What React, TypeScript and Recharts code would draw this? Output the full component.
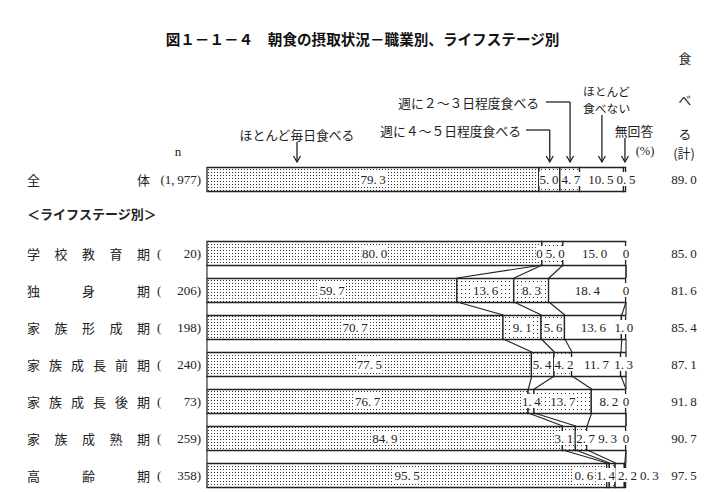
import React from 'react'
import { createPortal } from 'react-dom'
import * as RC from 'recharts'

const { BarChart, Bar, XAxis, YAxis } = RC

// rows: 全体 + life stages
const rowNames = ['全体', '学校教育期', '独身期', '家族形成期', '家族成長前期', '家族成長後期', '家族成熟期', '高齢期']
const sampleN = [1977, 20, 206, 198, 240, 73, 259, 358]
const almostDaily = [79.3, 80.0, 59.7, 70.7, 77.5, 76.7, 84.9, 95.5]
const fourFiveDays = [5.0, 0, 13.6, 9.1, 5.4, 1.4, 3.1, 0.6]
const twoThreeDays = [4.7, 5.0, 8.3, 5.6, 4.2, 13.7, 2.7, 1.4]
const rarely = [10.5, 15.0, 18.4, 13.6, 11.7, 8.2, 9.3, 2.2]
const noAnswer = [0.5, 0, 0, 1.0, 1.3, 0, 0, 0.3]
const eatTotal = [89.0, 85.0, 81.6, 85.4, 87.1, 91.8, 90.7, 97.5]

const series = [
  { key: 'daily', values: almostDaily, fill: 'url(#dotDense)' },
  { key: 'fourFive', values: fourFiveDays, fill: 'url(#dotSparse)' },
  { key: 'twoThree', values: twoThreeDays, fill: 'url(#dotSparse)' },
  { key: 'rarely', values: rarely, fill: '#fff' },
  { key: 'noAnswer', values: noAnswer, fill: '#fff' },
]

// chart rows: 全体, a blank row for the section heading, then the stages
const rowIndex = rowNames.map((_, r) => (r === 0 ? 0 : r + 1))
const chartData: any[] = []
rowNames.forEach((name, r) => {
  const row: any = { name }
  series.forEach(s => (row[s.key] = s.values[r]))
  chartData.push(row)
  if (r === 0) chartData.push({ name: 'heading' })
})

const W = 710
const H = 500
const BAR = 24
const MARGIN = { top: 160.5, right: 84, bottom: 6.5, left: 207 }
const FALLBACK = { x: MARGIN.left, y: MARGIN.top, width: W - MARGIN.left - MARGIN.right, height: H - MARGIN.top - MARGIN.bottom }

const JP = '"Noto Sans CJK JP", sans-serif'
const NUM = '"Liberation Serif", "DejaVu Serif", serif'
const INK = '#222'
const FS = 13

const usePlot = (RC as any).usePlotArea as undefined | (() => any)

// wide decimal point like the source print ("79. 3")
const fmt = (v: number) => (v === 0 ? '0' : v.toFixed(1).replace('.', '.\u2009'))
const textW = (s: string) => {
  let w = 0
  for (const ch of s) w += ch === '.' ? 0.25 : ch === '\u2009' ? 0.2 : 0.5
  return w * FS
}

function spread(pos: number[], widths: number[]) {
  const p = [...pos]
  for (let it = 0; it < 80; it++) {
    for (let i = 0; i < p.length - 1; i++) {
      const need = (widths[i] + widths[i + 1]) / 2 + 3
      const over = need - (p[i + 1] - p[i])
      if (over > 0) {
        p[i] -= over / 2
        p[i + 1] += over / 2
      }
    }
  }
  return p
}

function Arrow({ x, y1, y2 }: { x: number; y1: number; y2: number }) {
  return (
    <g stroke={INK} strokeWidth={1.3} fill="none">
      <line x1={x} y1={y1} x2={x} y2={y2} />
      <path d={`M${x - 3.5},${y2 - 6} L${x},${y2} L${x + 3.5},${y2 - 6}`} />
    </g>
  )
}

function Overlay({ layer }: { layer: SVGGElement | null }) {
  const pa = usePlot ? usePlot() : null
  const area = pa && pa.width ? pa : FALLBACK
  const band = area.height / chartData.length
  const cy = (i: number) => area.y + (i + 0.5) * band
  const px = (v: number) => area.x + (v / 100) * area.width
  const half = BAR / 2

  const cums = rowNames.map((_, r) => {
    const c = [0]
    series.forEach(s => c.push(c[c.length - 1] + s.values[r]))
    return c
  })

  const connectors: React.ReactNode[] = []
  for (let r = 1; r < rowNames.length - 1; r++) {
    const a = cums[r]
    const b = cums[r + 1]
    a.forEach((_, k) => {
      const va = k === a.length - 1 ? 100 : a[k]
      const vb = k === b.length - 1 ? 100 : b[k]
      connectors.push(
        <line key={`c${r}-${k}`} x1={px(va)} y1={cy(rowIndex[r]) + half} x2={px(vb)} y2={cy(rowIndex[r + 1]) - half} stroke={INK} strokeWidth={1.1} />
      )
    })
  }

  const labels: React.ReactNode[] = []
  rowNames.forEach((_, r) => {
    const texts = series.map(s => fmt(s.values[r]))
    const widths = texts.map(textW)
    const centers = series.map((s, k) => px(cums[r][k] + s.values[r] / 2))
    const pos = spread(centers, widths)
    const y = cy(rowIndex[r])
    texts.forEach((t, k) => {
      labels.push(
        <g key={`l${r}-${k}`}>
          <rect x={pos[k] - widths[k] / 2 - 0.5} y={y - 7} width={widths[k] + 1} height={14} fill="#fff" />
          <text x={pos[k]} y={y} textAnchor="middle" dominantBaseline="central" fontFamily={NUM} fontSize={FS} fill={INK}>{t}</text>
        </g>
      )
    })
  })

  const rowText = rowNames.map((name, r) => {
    const y = cy(rowIndex[r])
    const chars = [...name]
    const nStr = sampleN[r].toLocaleString('en-US').replace(',', ',\u2009')
    return (
      <g key={`n${r}`}>
        {chars.map((ch, i) => (
          <text key={i} x={27 + (i * 110) / (chars.length - 1)} y={y} dominantBaseline="central" fontFamily={JP} fontSize={13} fill={INK}>{ch}</text>
        ))}
        {r === 0 ? (
          <text x={201} y={y} textAnchor="end" dominantBaseline="central" fontFamily={NUM} fontSize={FS} fill={INK}>({nStr})</text>
        ) : (
          <>
            <text x={157} y={y} dominantBaseline="central" fontFamily={NUM} fontSize={FS} fill={INK}>(</text>
            <text x={201} y={y} textAnchor="end" dominantBaseline="central" fontFamily={NUM} fontSize={FS} fill={INK}>{nStr})</text>
          </>
        )}
        <text x={684} y={y} textAnchor="middle" dominantBaseline="central" fontFamily={NUM} fontSize={FS} fill={INK}>{fmt(eatTotal[r])}</text>
      </g>
    )
  })

  // arrows point at the 全体 segments
  const c0 = cums[0]
  const mid = (k: number) => px(c0[k] + series[k].values[0] / 2)
  const tip = cy(0) - half - 5
  const aDaily = 297
  const a45 = mid(1)
  const a23 = mid(2)
  const aRare = mid(3)
  const aNone = mid(4)

  const content = (
    <g>
      <text x={362.5} y={38.5} textAnchor="middle" dominantBaseline="central" fontFamily={JP} fontSize={14.6} fontWeight={700} fill="#111">
        図１－１－４　朝食の摂取状況－職業別、ライフステージ別
      </text>
      <text x={27} y={cy(1) - 3} dominantBaseline="central" fontFamily={JP} fontSize={13} fontWeight={700} fill={INK}>＜ライフステージ別＞</text>
      <text x={178} y={151} textAnchor="middle" dominantBaseline="central" fontFamily={NUM} fontSize={FS} fill={INK}>n</text>

      <g fontFamily={JP} fontSize={12.8} fill={INK}>
        <text x={aDaily} y={134} textAnchor="middle" dominantBaseline="central">ほとんど毎日食べる</text>
        <text x={521} y={130} textAnchor="end" dominantBaseline="central">週に４～５日程度食べる</text>
        <text x={539} y={102} textAnchor="end" dominantBaseline="central">週に２～３日程度食べる</text>
        <text x={583} y={90} dominantBaseline="central" fontSize={11.8}>ほとんど</text>
        <text x={583} y={107} dominantBaseline="central" fontSize={11.8}>食べない</text>
        <text x={634} y={130} textAnchor="middle" dominantBaseline="central">無回答</text>
        <text x={685} y={57} textAnchor="middle" dominantBaseline="central">食</text>
        <text x={685} y={99} textAnchor="middle" dominantBaseline="central">べ</text>
        <text x={685} y={133} textAnchor="middle" dominantBaseline="central">る</text>
        <text x={684} y={152} textAnchor="middle" dominantBaseline="central">(計)</text>
      </g>
      <text x={645} y={151} textAnchor="middle" dominantBaseline="central" fontFamily={NUM} fontSize={12.5} fill={INK}>(%)</text>

      <Arrow x={aDaily} y1={142} y2={tip} />
      <polyline points={`526,130 ${a45},130`} stroke={INK} strokeWidth={1.3} fill="none" />
      <Arrow x={a45} y1={130} y2={tip} />
      <polyline points={`546,102 ${a23},102`} stroke={INK} strokeWidth={1.3} fill="none" />
      <Arrow x={a23} y1={102} y2={tip} />
      <Arrow x={aRare} y1={115} y2={tip} />
      <Arrow x={aNone} y1={138} y2={tip} />

      {connectors}
      {labels}
      {rowText}
    </g>
  )
  return layer ? createPortal(content, layer) : null
}

export default function App() {
  const [layer, setLayer] = React.useState<SVGGElement | null>(null)
  return (
    <div style={{ position: 'absolute', left: 0, top: 0, width: W, height: 492, overflow: 'hidden', background: '#fff' }}>
      <svg width={0} height={0} style={{ position: 'absolute' }}>
        <defs>
          <pattern id="dotDense" width={3} height={3} patternUnits="userSpaceOnUse">
            <rect width={3} height={3} fill="#fff" />
            <rect x={1} y={1} width={1} height={1} fill="#333" />
          </pattern>
          <pattern id="dotSparse" width={4} height={4} patternUnits="userSpaceOnUse">
            <rect width={4} height={4} fill="#fff" />
            <rect x={1} y={1} width={1} height={1} fill="#333" />
          </pattern>
        </defs>
      </svg>
      <BarChart width={W} height={H} data={chartData} layout="vertical" margin={MARGIN} barSize={BAR}>
        <XAxis type="number" domain={[0, 100]} hide />
        <YAxis type="category" dataKey="name" hide />
        {series.map(s => (
          <Bar key={s.key} dataKey={s.key} stackId="a" fill={s.fill} stroke={INK} strokeWidth={1.3} isAnimationActive={false} />
        ))}
        <Overlay layer={layer} />
      </BarChart>
      <svg width={W} height={H} style={{ position: 'absolute', left: 0, top: 0, pointerEvents: 'none' }}>
        <g ref={setLayer} />
      </svg>
    </div>
  )
}
